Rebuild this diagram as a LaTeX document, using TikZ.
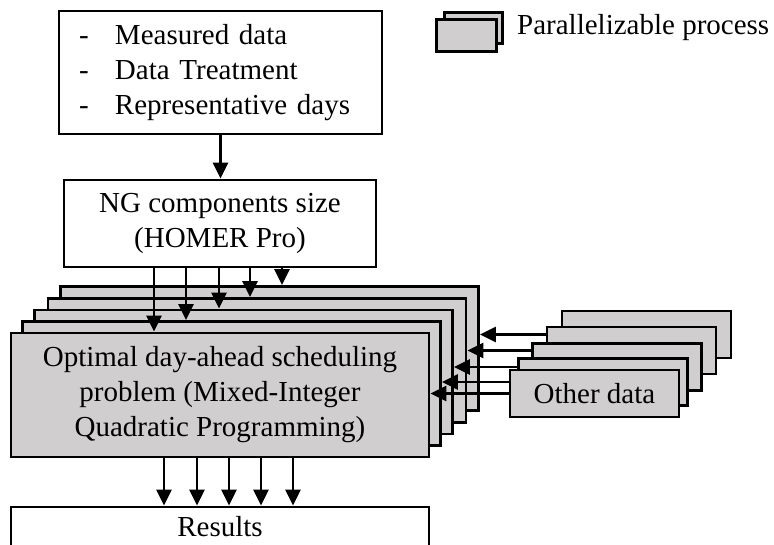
\documentclass[tikz,border=0pt]{standalone}
\usepackage{fontspec}
\setmainfont{Liberation Serif}
\usetikzlibrary{arrows.meta}
\definecolor{boxgray}{RGB}{208,206,206}
\begin{document}
\begin{tikzpicture}[x=1pt,y=-1pt,
  box/.style={draw, line width=2.8pt, inner sep=0pt, font=\fontsize{29}{35}\selectfont, align=center},
  gbox/.style={box, fill=boxgray},
  optbox/.style={gbox, minimum width=418pt, minimum height=124pt},
  odbox/.style={gbox, minimum width=169pt, minimum height=47pt},
  arr/.style={line width=2.4pt, -{Triangle[length=16pt,width=15pt]}},
]
\useasboundingbox (0,0) rectangle (774,544);
\clip (0,0) rectangle (774,544);
% data box
\node[box, minimum width=323pt, minimum height=123pt, text width=283pt, inner xsep=20pt, align=left] (data) at (220.5,72.5)
  {\makebox[36pt][l]{-}Measured data\\\makebox[36pt][l]{-}Data Treatment\\\makebox[36pt][l]{-}Representative days};
% NG box
\node[box, minimum width=312pt, minimum height=87pt] (ng) at (220,223.5) {NG components size\\(HOMER Pro)};
\draw[arr] (data.south) -- (data.south |- ng.north);
% optimisation stack
\node[optbox] (opt5) at (269.5,348.5) {};
\node[optbox] (opt4) at (257,360.5) {};
\node[optbox] (opt3) at (243.5,372) {};
\node[optbox] (opt2) at (231.5,383.5) {};
\node[optbox] (opt1) at (220,395) {Optimal day-ahead scheduling\\problem (Mixed-Integer\\Quadratic Programming)};
% arrows from NG box
\draw[arr] ([xshift=-66pt]ng.south) -- ([xshift=-66pt]ng.south |- opt1.north);
\draw[arr] ([xshift=-34pt]ng.south) -- ([xshift=-34pt]ng.south |- opt2.north);
\draw[arr] ([xshift=-1pt]ng.south) -- ([xshift=-1pt]ng.south |- opt3.north);
\draw[arr] ([xshift=30pt]ng.south) -- ([xshift=30pt]ng.south |- opt4.north);
\draw[arr] ([xshift=62pt]ng.south) -- ([xshift=62pt]ng.south |- opt5.north);
% other data stack
\node[odbox] (od5) at (646.5,334.5) {};
\draw[arr] (od5.west) -- (od5.west -| opt5.east);
\node[odbox] (od4) at (631.5,350.5) {};
\draw[arr] (od4.west) -- (od4.west -| opt4.east);
\node[odbox] (od3) at (617,367) {};
\draw[arr] (od3.west) -- (od3.west -| opt3.east);
\node[odbox] (od2) at (603,382) {};
\draw[arr] (od2.west) -- (od2.west -| opt2.east);
\node[odbox] (od1) at (594.5,393.5) {Other data};
\draw[arr] (od1.west) -- (od1.west -| opt1.east);
% results
\node[box, minimum width=418pt, minimum height=40pt] (res) at (220,527) {Results};
\foreach \s in {-56,-23,9,41,73}
  \draw[arr] ([xshift=\s pt]opt1.south) -- ([xshift=\s pt]opt1.south |- res.north);
% legend
\node[gbox, line width=3pt, minimum width=58pt, minimum height=31pt] (leg2) at (473,27.5) {};
\node[gbox, line width=3pt, minimum width=60pt, minimum height=32pt] (leg1) at (466,35) {};
\node[font=\fontsize{29}{35}\selectfont, anchor=west, inner sep=0pt] (legtxt) at (517,28) {Parallelizable process};
\end{tikzpicture}
\end{document}
